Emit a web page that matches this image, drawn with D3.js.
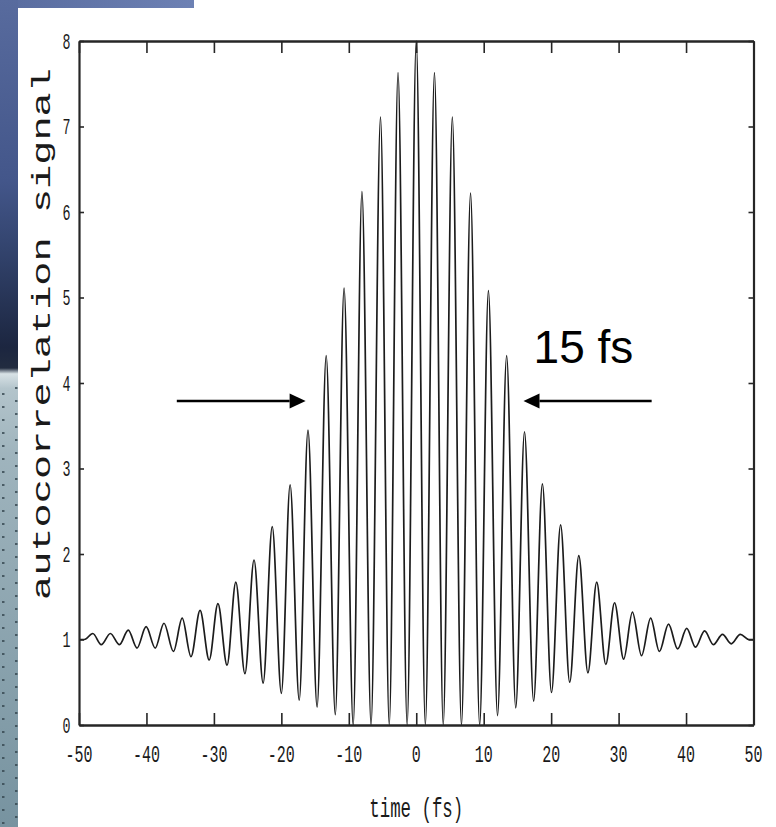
<!DOCTYPE html>
<html>
<head>
<meta charset="utf-8">
<script src="https://cdn.jsdelivr.net/npm/d3@7"></script>
<style>
  html, body { margin: 0; padding: 0; background: #ffffff; }
  svg { display: block; }
</style>
</head>
<body>
<svg id="chart" width="776" height="827"></svg>
<script>
// Fringe extrema (peaks and troughs) of the interferometric autocorrelation trace
const time = [
  -50.0, -49.2, -47.95, -46.7, -45.35, -44.0, -42.7, -41.4, -40.05, -38.7,
  -37.4, -36.0, -34.7, -33.4, -32.05, -30.7, -29.4, -28.05, -26.75, -25.4,
  -24.05, -22.7, -21.35, -20.0, -18.7, -17.35, -16.05, -14.7, -13.35, -12.0,
  -10.7, -9.35, -8.05, -6.7, -5.3, -4.0, -2.7, -1.35, 0.0,
  1.35, 2.7, 4.0, 5.35, 6.7, 8.05, 9.4, 10.7, 12.05, 13.4,
  14.75, 16.05, 17.4, 18.7, 20.05, 21.4, 22.75, 24.1, 25.45, 26.75,
  28.1, 29.4, 30.75, 32.05, 33.4, 34.75, 36.05, 37.4, 38.75, 40.1,
  41.4, 42.75, 44.05, 45.4, 46.7, 48.05, 49.3, 50.0
];
const signal = [
  1.00, 1.00, 1.07, 0.94, 1.07, 0.94, 1.11, 0.90, 1.15, 0.90,
  1.19, 0.86, 1.25, 0.80, 1.34, 0.76, 1.42, 0.70, 1.67, 0.60,
  1.93, 0.49, 2.32, 0.37, 2.81, 0.29, 3.45, 0.21, 4.32, 0.12,
  5.11, 0.00, 6.24, 0.00, 7.11, 0.00, 7.63, 0.00, 8.00,
  0.00, 7.63, 0.00, 7.11, 0.00, 6.22, 0.00, 5.08, 0.11, 4.32,
  0.20, 3.43, 0.28, 2.82, 0.38, 2.34, 0.50, 1.98, 0.61, 1.67,
  0.71, 1.43, 0.77, 1.32, 0.81, 1.25, 0.86, 1.18, 0.89, 1.13,
  0.91, 1.10, 0.94, 1.06, 0.95, 1.06, 1.00, 1.00
];

const xTicks = [-50, -40, -30, -20, -10, 0, 10, 20, 30, 40, 50];
const yTicks = [0, 1, 2, 3, 4, 5, 6, 7, 8];
const xTitle = "time (fs)";
const yTitle = "autocorrelation signal";

// FWHM annotation: arrow tails, arrow tips, level and label
const arrowTail = [-35.5, 34.9];
const arrowTip = [-16.4, 15.9];
const arrowLevel = 3.79;
const widthLabel = "15 fs";
const widthLabelPos = [17.4, 4.23];

const svg = d3.select("#chart");
const W = 776, H = 827;

// ---- slide backdrop (blue band and textured strip) ----
const defs = svg.append("defs");
const gTop = defs.append("linearGradient").attr("id", "topBand")
  .attr("x1", 0).attr("x2", 1).attr("y1", 0).attr("y2", 0);
gTop.append("stop").attr("offset", 0).attr("stop-color", "#586b9e");
gTop.append("stop").attr("offset", 1).attr("stop-color", "#6d81b4");

const gLeft = defs.append("linearGradient").attr("id", "leftBand")
  .attr("x1", 0).attr("x2", 0).attr("y1", 0).attr("y2", 1);
[[0, "#586b9e"], [0.22, "#43568a"], [0.3, "#33446e"], [0.42, "#1c2640"],
 [0.445, "#222c40"], [0.452, "#d8e2e6"], [0.47, "#b3c4cb"], [0.55, "#9fb4bd"],
 [1, "#7793a0"]].forEach(([o, c]) =>
  gLeft.append("stop").attr("offset", o).attr("stop-color", c));

const dots = defs.append("pattern").attr("id", "dots")
  .attr("patternUnits", "userSpaceOnUse").attr("width", 18).attr("height", 26);
[[2, 3], [15, 10], [2, 16], [15, 23]].forEach(([dx, dy]) =>
  dots.append("rect").attr("x", dx).attr("y", dy).attr("width", 2.5).attr("height", 2)
    .attr("fill", "#34464f").attr("opacity", 0.8));

svg.append("rect").attr("x", 0).attr("y", 0).attr("width", W).attr("height", H).attr("fill", "#ffffff");
svg.append("rect").attr("x", 0).attr("y", 0).attr("width", 194).attr("height", 8).attr("fill", "url(#topBand)");
svg.append("rect").attr("x", 0).attr("y", 0).attr("width", 18).attr("height", H).attr("fill", "url(#leftBand)");
svg.append("rect").attr("x", 0).attr("y", 385).attr("width", 18).attr("height", H - 385).attr("fill", "url(#dots)");

// ---- scales ----
const x = d3.scaleLinear().domain([-50, 50]).range([79, 753.5]);
const y = d3.scaleLinear().domain([0, 8]).range([725, 41]);

const axisColor = "#262626";
const plot = svg.append("g");

// ---- trace ----
const pts = time.map((t, i) => [t, signal[i]]);
const line = d3.line()
  .x(d => x(d[0]))
  .y(d => y(d[1]))
  .curve(d3.curveMonotoneX);
plot.append("path")
  .datum(pts)
  .attr("d", line)
  .attr("fill", "none")
  .attr("stroke", "#1c1c1c")
  .attr("stroke-width", 1.7)
  .attr("stroke-linejoin", "round");

// ---- axes (boxed frame with inward ticks) ----
const fontMono = "'Liberation Mono', 'DejaVu Sans Mono', monospace";

const axBottom = d3.axisBottom(x).tickValues(xTicks).tickSizeInner(-12).tickSizeOuter(0).tickFormat("");
const axTop = d3.axisTop(x).tickValues(xTicks).tickSizeInner(-12).tickSizeOuter(0).tickFormat("");
const axLeft = d3.axisLeft(y).tickValues(yTicks).tickSizeInner(-5).tickSizeOuter(0).tickFormat("");
const axRight = d3.axisRight(y).tickValues(yTicks).tickSizeInner(-5).tickSizeOuter(0).tickFormat("");

function styleAxis(g, w) {
  g.select(".domain").attr("stroke", axisColor).attr("stroke-width", w);
  g.selectAll(".tick line").attr("stroke", axisColor).attr("stroke-width", 1.6);
}
plot.append("g").attr("transform", `translate(0,${y(0)})`).call(axBottom).call(g => styleAxis(g, 2.6));
plot.append("g").attr("transform", `translate(0,${y(8)})`).call(axTop).call(g => styleAxis(g, 2.6));
plot.append("g").attr("transform", `translate(${x(-50)},0)`).call(axLeft).call(g => styleAxis(g, 2.2));
plot.append("g").attr("transform", `translate(${x(50)},0)`).call(axRight).call(g => styleAxis(g, 2.2));

// ---- tick labels ----
plot.append("g").selectAll("text").data(xTicks).join("text")
  .attr("x", d => x(d))
  .attr("y", 762)
  .attr("text-anchor", "middle")
  .attr("font-family", fontMono)
  .attr("font-size", 24)
  .attr("fill", "#1a1a1a")
  .attr("textLength", d => String(d).length * 9)
  .attr("lengthAdjust", "spacingAndGlyphs")
  .text(d => String(d));

plot.append("g").selectAll("text").data(yTicks).join("text")
  .attr("x", 66.5)
  .attr("y", d => y(d) + 7.5)
  .attr("text-anchor", "middle")
  .attr("font-family", fontMono)
  .attr("font-size", 22)
  .attr("fill", "#1a1a1a")
  .attr("textLength", 8)
  .attr("lengthAdjust", "spacingAndGlyphs")
  .text(d => String(d));

// ---- axis titles ----
svg.append("text")
  .attr("x", x(0))
  .attr("y", 817)
  .attr("text-anchor", "middle")
  .attr("font-family", fontMono)
  .attr("font-size", 27)
  .attr("fill", "#1a1a1a")
  .attr("textLength", 94)
  .attr("lengthAdjust", "spacingAndGlyphs")
  .text(xTitle);

svg.append("text")
  .attr("transform", `translate(50,334) rotate(-90)`)
  .attr("text-anchor", "middle")
  .attr("font-family", fontMono)
  .attr("font-size", 25)
  .attr("fill", "#1a1a1a")
  .attr("textLength", 532)
  .attr("lengthAdjust", "spacingAndGlyphs")
  .text(yTitle);

// ---- FWHM arrows and label ----
const ann = svg.append("g");
arrowTail.forEach((t0, i) => {
  const t1 = arrowTip[i];
  const dir = Math.sign(t1 - t0);
  const xTip = x(t1), yA = y(arrowLevel);
  const headLen = 16, headHalf = 7.5;
  ann.append("line")
    .attr("x1", x(t0)).attr("y1", yA)
    .attr("x2", xTip - dir * headLen).attr("y2", yA)
    .attr("stroke", "#000").attr("stroke-width", 2.4);
  ann.append("path")
    .attr("d", `M${xTip},${yA} L${xTip - dir * headLen},${yA - headHalf} L${xTip - dir * headLen},${yA + headHalf} Z`)
    .attr("fill", "#000");
});
ann.append("text")
  .attr("x", x(widthLabelPos[0]))
  .attr("y", y(widthLabelPos[1]))
  .attr("font-family", "'Liberation Sans', Arial, sans-serif")
  .attr("font-size", 46)
  .attr("fill", "#000")
  .text(widthLabel);
</script>
</body>
</html>
